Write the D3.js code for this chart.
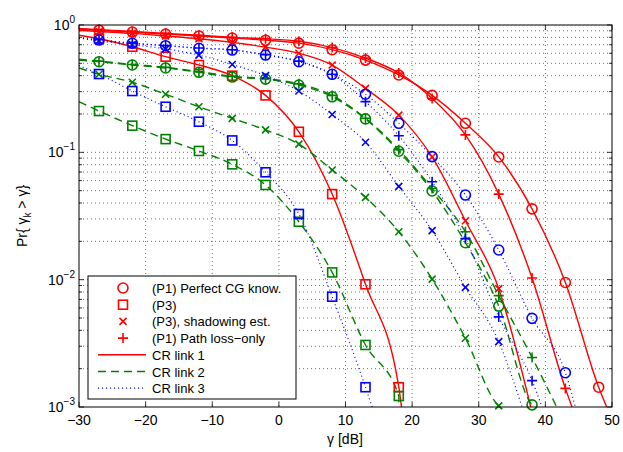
<!DOCTYPE html>
<html>
<head>
<meta charset="utf-8">
<script src="https://cdn.jsdelivr.net/npm/d3@7"></script>
<style>
  body { margin: 0; background: #fff; }
  text { font-family: "Liberation Sans", Arial, Helvetica, sans-serif; fill: #000; }
</style>
</head>
<body>
<svg id="chart" width="623" height="452"></svg>
<script>
// marker positions (dB)
const gammaDb = [-27, -22, -17, -12, -7, -2, 3, 8, 13, 18, 23, 28, 33, 38, 43, 48];
const xTicks = [-30, -20, -10, 0, 10, 20, 30, 40, 50];
const yExponents = [-3, -2, -1, 0];

// CR link 1 (red)
const link1Perfect  = [0.91, 0.88, 0.85, 0.82, 0.79, 0.76, 0.72, 0.64, 0.53, 0.405, 0.28, 0.169, 0.092, 0.036, 0.0095, 0.00143];
const link1P3       = [0.78, 0.675, 0.564, 0.485, 0.40, 0.28, 0.145, 0.047, 0.0092, 0.00143, null, null, null, null, null, null];
const link1Shadow   = [0.89, 0.86, 0.82, 0.78, 0.73, 0.67, 0.60, 0.485, 0.318, 0.196, 0.092, 0.029, 0.0085, null, null, null];
const link1PathLoss = [0.92, 0.89, 0.86, 0.83, 0.80, 0.78, 0.745, 0.665, 0.55, 0.42, 0.265, 0.137, 0.047, 0.0103, 0.0014, null];
// CR link 2 (green)
const link2Perfect  = [0.515, 0.485, 0.46, 0.425, 0.39, 0.376, 0.338, 0.273, 0.183, 0.102, 0.0497, 0.0195, 0.0062, 0.00104, null, null];
const link2P3       = [0.211, 0.162, 0.127, 0.1025, 0.0805, 0.0554, 0.0285, 0.0114, 0.00307, 0.00122, null, null, null, null, null, null];
const link2Shadow   = [0.41, 0.355, 0.286, 0.228, 0.185, 0.15, 0.116, 0.0727, 0.0443, 0.0238, 0.0101, 0.00347, 0.00102, null, null, null];
const link2PathLoss = [0.52, 0.49, 0.465, 0.43, 0.395, 0.38, 0.345, 0.28, 0.185, 0.105, 0.052, 0.0238, 0.0075, 0.00245, null, null];
// CR link 3 (blue)
const link3Perfect  = [0.762, 0.718, 0.688, 0.656, 0.636, 0.581, 0.515, 0.41, 0.286, 0.169, 0.0925, 0.0462, 0.0171, 0.00497, 0.00186, null];
const link3P3       = [0.412, 0.303, 0.228, 0.174, 0.124, 0.0697, 0.0328, 0.00735, 0.00143, null, null, null, null, null, null, null];
const link3Shadow   = [0.75, 0.70, 0.65, 0.58, 0.49, 0.40, 0.303, 0.198, 0.12, 0.054, 0.0243, 0.0087, 0.00326, null, null, null];
const link3PathLoss = [0.765, 0.72, 0.69, 0.66, 0.64, 0.585, 0.52, 0.41, 0.25, 0.135, 0.0588, 0.021, 0.0051, 0.00161, null, null];

// value of each curve at the left edge (-30 dB) and where it leaves the plot (dB at 1e-3)
// order: link1 perfect,P3,shadow,pathloss, link2 ..., link3 ...
const curveStart = [0.93, 0.83, 0.91, 0.94, 0.53, 0.25, 0.46, 0.54, 0.79, 0.48, 0.79, 0.79];
const curveEnd   = [49.2, 18.4, 37.8, 44.0, 38.4, 18.0, 33.2, 41.7, 44.5, 14.0, 36.5, 39.5];

const legendMarkerLabels = ['(P1) Perfect CG know.', '(P3)', '(P3), shadowing est.', '(P1) Path loss\u2212only'];
const legendLineLabels = ['CR link 1', 'CR link 2', 'CR link 3'];

const linkColors = ['#ff0000', '#008000', '#0000ff'];
const linkDash = [null, '8,5', '1,3'];
const schemeMarkers = ['circle', 'square', 'cross', 'plus'];

const curves = [
  link1Perfect, link1P3, link1Shadow, link1PathLoss,
  link2Perfect, link2P3, link2Shadow, link2PathLoss,
  link3Perfect, link3P3, link3Shadow, link3PathLoss
].map((vals, i) => ({
  vals: vals,
  link: Math.floor(i / 4),
  marker: schemeMarkers[i % 4],
  start: curveStart[i],
  end: curveEnd[i]
}));

const svg = d3.select('#chart');
const box = { left: 79, right: 612, top: 25, bottom: 407 };

const x = d3.scaleLinear().domain([-30, 50]).range([box.left, box.right]);
const y = d3.scaleLog().domain([1e-3, 1]).range([box.bottom, box.top]);

svg.append('defs').append('clipPath').attr('id', 'plotclip')
  .append('rect').attr('x', box.left).attr('y', box.top)
  .attr('width', box.right - box.left).attr('height', box.bottom - box.top);

// grid
const minorVals = [];
yExponents.slice(0, 3).forEach(e => {
  for (let m = 1; m <= 9; m++) minorVals.push(m * Math.pow(10, e));
});
const grid = svg.append('g').attr('stroke', '#333').attr('stroke-width', 0.7)
  .attr('stroke-dasharray', '1,3');
grid.selectAll('.gx').data(xTicks.slice(1, -1)).enter().append('line')
  .attr('x1', d => x(d)).attr('x2', d => x(d)).attr('y1', box.top).attr('y2', box.bottom);
grid.selectAll('.gy').data(minorVals.slice(1)).enter().append('line')
  .attr('x1', box.left).attr('x2', box.right).attr('y1', d => y(d)).attr('y2', d => y(d));

// ticks (inward, both sides)
const ticks = svg.append('g').attr('stroke', '#000').attr('stroke-width', 0.8);
xTicks.forEach(d => {
  ticks.append('line').attr('x1', x(d)).attr('x2', x(d)).attr('y1', box.bottom).attr('y2', box.bottom - 5);
  ticks.append('line').attr('x1', x(d)).attr('x2', x(d)).attr('y1', box.top).attr('y2', box.top + 5);
});
minorVals.concat([1]).forEach(d => {
  const major = Math.abs(Math.log10(d) - Math.round(Math.log10(d))) < 1e-9;
  const len = major ? 5 : 3;
  ticks.append('line').attr('x1', box.left).attr('x2', box.left + len).attr('y1', y(d)).attr('y2', y(d));
  ticks.append('line').attr('x1', box.right).attr('x2', box.right - len).attr('y1', y(d)).attr('y2', y(d));
});

// curves
const line = d3.line()
  .x(d => x(d.g))
  .y(d => y(d.v))
  .curve(d3.curveMonotoneX);

const plot = svg.append('g').attr('clip-path', 'url(#plotclip)');
curves.forEach(c => {
  const pts = [{ g: -30, v: c.start }];
  c.vals.forEach((v, i) => { if (v !== null) pts.push({ g: gammaDb[i], v: v }); });
  pts.push({ g: c.end, v: 1e-3 });
  plot.append('path')
    .datum(pts)
    .attr('fill', 'none')
    .attr('stroke', linkColors[c.link])
    .attr('stroke-width', c.link === 2 ? 1.2 : 1.4)
    .attr('stroke-dasharray', linkDash[c.link])
    .attr('d', line);
});

function drawMarker(g, type, cx, cy, color) {
  const s = g.append('g').attr('stroke', color).attr('stroke-width', 1.6).attr('fill', 'none');
  if (type === 'circle') {
    s.append('circle').attr('cx', cx).attr('cy', cy).attr('r', 5);
  } else if (type === 'square') {
    s.append('rect').attr('x', cx - 4.5).attr('y', cy - 4.5).attr('width', 9).attr('height', 9);
  } else if (type === 'cross') {
    s.append('path').attr('d', `M${cx - 3.5},${cy - 3.5}L${cx + 3.5},${cy + 3.5}M${cx - 3.5},${cy + 3.5}L${cx + 3.5},${cy - 3.5}`);
  } else {
    s.append('path').attr('d', `M${cx - 5},${cy}L${cx + 5},${cy}M${cx},${cy - 5}L${cx},${cy + 5}`);
  }
}

const marks = svg.append('g');
curves.forEach(c => {
  c.vals.forEach((v, i) => {
    if (v !== null) drawMarker(marks, c.marker, x(gammaDb[i]), y(v), linkColors[c.link]);
  });
});

// frame
svg.append('rect').attr('x', box.left).attr('y', box.top)
  .attr('width', box.right - box.left).attr('height', box.bottom - box.top)
  .attr('fill', 'none').attr('stroke', '#000').attr('stroke-width', 1);

// tick labels
svg.append('g').selectAll('text').data(xTicks).enter().append('text')
  .attr('x', d => x(d)).attr('y', 425)
  .attr('text-anchor', 'middle').attr('font-size', 14)
  .text(d => d < 0 ? '\u2212' + Math.abs(d) : d);

const yl = svg.append('g').selectAll('text').data(yExponents).enter().append('text')
  .attr('x', 75).attr('y', d => y(Math.pow(10, d)) + 5)
  .attr('text-anchor', 'end').attr('font-size', 14);
yl.append('tspan').text('10');
yl.append('tspan').attr('dy', -7).attr('font-size', 10)
  .text(d => d < 0 ? '\u2212' + Math.abs(d) : d);

// axis titles
svg.append('text').attr('x', 345).attr('y', 444).attr('text-anchor', 'middle')
  .attr('font-size', 14).text('\u03b3 [dB]');

const yt = svg.append('text').attr('transform', 'translate(27,216) rotate(-90)')
  .attr('text-anchor', 'middle').attr('font-size', 14);
yt.append('tspan').text('Pr{ \u03b3');
yt.append('tspan').attr('dy', 4).attr('font-size', 10).text('k');
yt.append('tspan').attr('dy', -4).text(' > \u03b3}');

// legend
const lg = svg.append('g');
lg.append('rect').attr('x', 88).attr('y', 276).attr('width', 208).attr('height', 123)
  .attr('fill', '#fff').attr('stroke', '#000').attr('stroke-width', 1);
legendMarkerLabels.forEach((t, i) => {
  const cy = 288 + i * 16.7;
  drawMarker(lg, schemeMarkers[i], 123, cy, linkColors[0]);
  lg.append('text').attr('x', 152).attr('y', cy + 5).attr('font-size', 13).text(t);
});
legendLineLabels.forEach((t, i) => {
  const cy = 288 + (i + 4) * 16.7;
  lg.append('line').attr('x1', 98).attr('x2', 146).attr('y1', cy).attr('y2', cy)
    .attr('stroke', linkColors[i]).attr('stroke-width', i === 2 ? 1.2 : 1.4)
    .attr('stroke-dasharray', linkDash[i]);
  lg.append('text').attr('x', 152).attr('y', cy + 5).attr('font-size', 13).text(t);
});
</script>
</body>
</html>
